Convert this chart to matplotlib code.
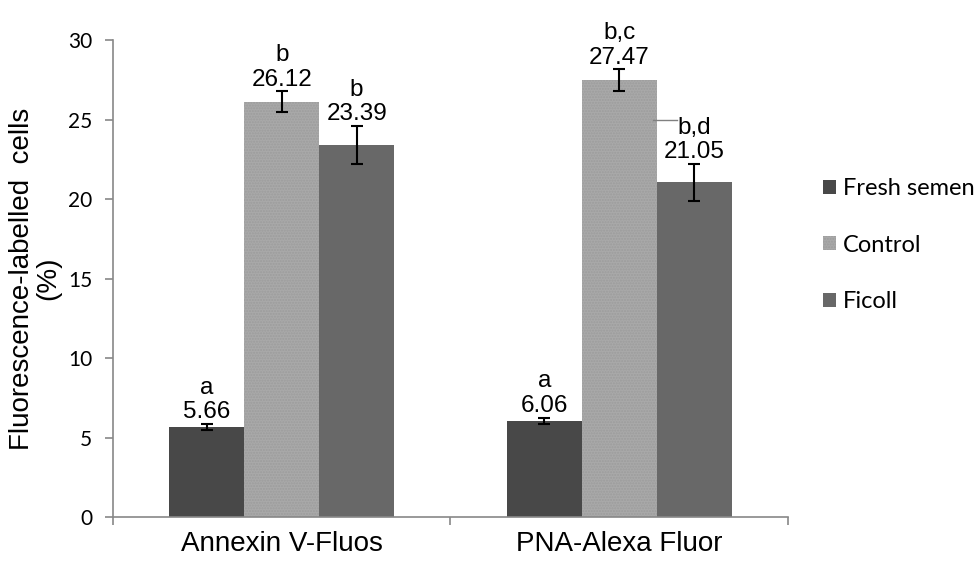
import numpy as np
import matplotlib.pyplot as plt

groups = ['Annexin V-Fluos', 'PNA-Alexa Fluor']
series = ['Fresh semen', 'Control', 'Ficoll']
values = {
    'Fresh semen': [5.66, 6.06],
    'Control': [26.12, 27.47],
    'Ficoll': [23.39, 21.05],
}
errors = {
    'Fresh semen': [0.2, 0.2],
    'Control': [0.65, 0.68],
    'Ficoll': [1.2, 1.15],
}
letters = {
    'Fresh semen': ['a', 'a'],
    'Control': ['b', 'b,c'],
    'Ficoll': ['b', 'b,d'],
}
colors = {'Fresh semen': '#484848', 'Control': '#a9a9a9', 'Ficoll': '#686868'}

fig = plt.figure(figsize=(9.74, 5.64), dpi=100)
ax = fig.add_axes([0.116, 0.083, 0.693, 0.846])

x = np.arange(len(groups))
width = 0.222
for i, s in enumerate(series):
    pos = x + (i - 1) * width
    if s == 'Control':
        kw = dict(hatch='......', edgecolor='#9c9c9c', linewidth=0)
    else:
        kw = dict(edgecolor='none', linewidth=0)
    ax.bar(pos, values[s], width, color=colors[s], label=s, **kw)
    ax.errorbar(pos, values[s], yerr=errors[s], fmt='none', ecolor='black',
                elinewidth=1.5, capsize=4.5, capthick=1.5)
    for j in range(len(groups)):
        top = values[s][j] + errors[s][j]
        ax.text(pos[j], top + 0.05, '%s\n%.2f' % (letters[s][j], values[s][j]),
                ha='center', va='bottom', fontsize=17.5, linespacing=1.15,
                family='Liberation Sans')

# short leader line next to the "b,d" label
pos_c = x[1]
ax.plot([pos_c + width / 2 - 0.01, pos_c + width / 2 + 0.06], [25.0, 25.0],
        color='#808080', lw=1)

ax.set_xlim(-0.5, 1.5)
ax.set_ylim(0, 30)
ax.set_yticks(range(0, 31, 5))
ax.set_xticks([-0.5, 0.5, 1.5], minor=False)
ax.set_xticklabels(['', '', ''])
ax.set_xticks(x, minor=True)
ax.set_xticklabels(groups, minor=True, fontsize=20, family='Liberation Sans')
ax.tick_params(axis='x', which='minor', length=0, pad=10)
ax.tick_params(axis='x', which='major', length=6, color='#888888', width=1.2)
ax.tick_params(axis='y', length=6, color='#888888', width=1.2, labelsize=15,
               pad=9)
for lab in ax.get_yticklabels():
    lab.set_family('Lato')

for sp in ['top', 'right']:
    ax.spines[sp].set_visible(False)
for sp in ['left', 'bottom']:
    ax.spines[sp].set_color('#888888')
    ax.spines[sp].set_linewidth(1.2)

ax.set_ylabel('Fluorescence-labelled  cells\n(%)', fontsize=20,
              family='Liberation Sans', linespacing=1.0)
ax.yaxis.set_label_coords(-0.077, 0.5)

leg = ax.legend(loc='center left', bbox_to_anchor=(1.02, 0.57), frameon=False,
                handlelength=0.55, handleheight=0.55, handletextpad=0.3,
                labelspacing=1.5, prop={'family': 'Lato', 'size': 17})

fig.savefig('out.png', dpi=100)
